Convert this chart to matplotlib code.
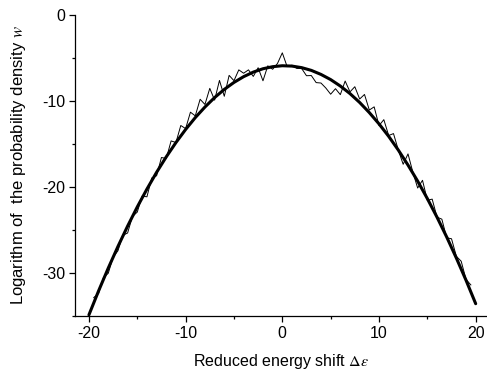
import numpy as np
import matplotlib
matplotlib.use("Agg")
import matplotlib.pyplot as plt
from matplotlib.ticker import MultipleLocator

plt.rcParams['font.family'] = ['Liberation Sans', 'DejaVu Sans']
plt.rcParams['mathtext.fontset'] = 'stix'
plt.rcParams['axes.unicode_minus'] = False

# Fitted (smooth) curve
fit_x = [-20, -19, -18, -17, -16, -15, -14, -13, -12, -11, -10, -9, -8, -7, -6, -5, -4, -3, -2, -1, 0,
         1, 2, 3, 4, 5, 6, 7, 8, 9, 10, 11, 12, 13, 14, 15, 16, 17, 18, 19, 20]
fit_y = [-34.87, -32.08, -29.43, -26.92, -24.55, -22.32, -20.24, -18.29, -16.49, -14.83, -13.31,
         -11.93, -10.70, -9.60, -8.65, -7.84, -7.17, -6.64, -6.25, -6.01, -5.90,
         -5.94, -6.12, -6.44, -6.91, -7.51, -8.26, -9.14, -10.17, -11.35, -12.66,
         -14.11, -15.71, -17.45, -19.32, -21.35, -23.51, -25.81, -28.26, -30.84, -33.57]

# Noisy (measured) curve
noisy_x = [-19.5, -19.0, -18.5, -18.0, -17.5, -17.0, -16.5, -16.0, -15.5, -15.0,
           -14.5, -14.0, -13.5, -13.0, -12.5, -12.0, -11.5, -11.0, -10.5, -10.0,
           -9.5, -9.0, -8.5, -8.0, -7.5, -7.0, -6.5, -6.0, -5.5, -5.0,
           -4.5, -4.0, -3.5, -3.0, -2.5, -2.0, -1.5, -1.0, -0.5, 0.0,
           0.5, 1.0, 1.5, 2.0, 2.5, 3.0, 3.5, 4.0, 4.5, 5.0,
           5.5, 6.0, 6.5, 7.0, 7.5, 8.0, 8.5, 9.0, 9.5, 10.0,
           10.5, 11.0, 11.5, 12.0, 12.5, 13.0, 13.5, 14.0, 14.5, 15.0,
           15.5, 16.0, 16.5, 17.0, 17.5, 18.0, 18.5, 19.0, 19.5]
noisy_y = [-32.86, -32.38, -30.54, -30.03, -28.16, -27.42, -25.62, -25.35, -23.42, -22.92,
           -21.06, -21.14, -18.95, -18.69, -16.57, -16.69, -14.64, -14.83, -12.85, -13.21,
           -11.30, -11.73, -9.80, -10.40, -8.53, -9.90, -7.61, -9.45, -7.02, -7.64,
           -6.38, -6.77, -6.38, -7.14, -6.13, -7.65, -5.91, -6.31, -5.64, -4.40,
           -6.00, -5.84, -6.21, -6.22, -7.06, -7.04, -7.86, -7.91, -8.49, -9.21,
           -8.57, -9.26, -7.68, -8.94, -8.34, -9.77, -9.24, -11.05, -10.68, -12.86,
           -12.17, -14.01, -13.79, -15.71, -17.36, -16.15, -18.27, -20.12, -19.22, -21.55,
           -21.41, -23.51, -23.74, -25.91, -26.02, -28.06, -28.63, -30.74, -31.39]

x_ticks = [-20, -10, 0, 10, 20]
y_ticks = [0, -10, -20, -30]

fig = plt.figure(figsize=(4.87, 3.72), dpi=100)
ax = fig.add_axes([75/487, (372-316)/372, (487-75)/487, (316-15)/372])

ax.plot(noisy_x, noisy_y, color='black', lw=0.7)
ax.plot(fit_x, fit_y, color='black', lw=2.2, solid_capstyle='round')

ax.set_xlim(-21.44, 21.17)
ax.set_ylim(-35, 0)
ax.set_xticks(x_ticks)
ax.set_yticks(y_ticks)
ax.set_xticklabels([str(v) for v in x_ticks])
ax.set_yticklabels([str(v) for v in y_ticks])
ax.xaxis.set_minor_locator(MultipleLocator(5))
ax.yaxis.set_minor_locator(MultipleLocator(5))

for s in ['top', 'right']:
    ax.spines[s].set_visible(False)
for s in ['left', 'bottom']:
    ax.spines[s].set_linewidth(0.9)

ax.tick_params(which='major', direction='out', length=4, width=0.9, labelsize=11.5, pad=3)
ax.tick_params(which='minor', direction='out', length=2.5, width=0.9)

ax.set_xlabel(r'Reduced energy shift $\Delta\varepsilon$', fontsize=11.5, labelpad=8)
ax.set_ylabel(r'Logarithm of  the probability density $w$', fontsize=12, labelpad=10)

fig.savefig('out.png', dpi=100)
